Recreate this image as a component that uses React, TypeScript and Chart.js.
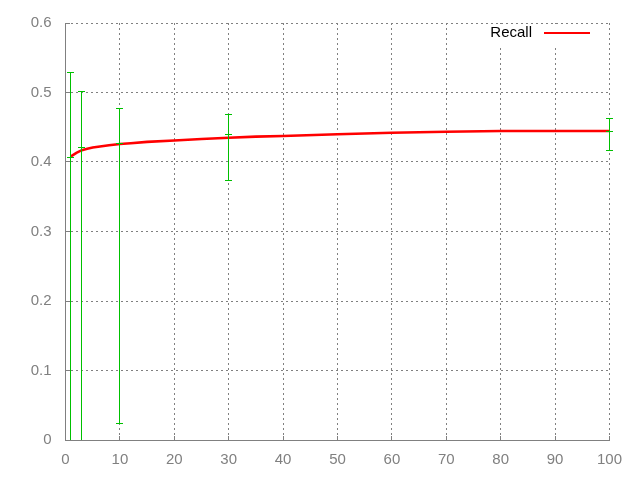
import React, { useEffect, useRef } from "react";
import { Chart, registerables } from "chart.js";

Chart.register(...registerables);

// Recall curve
const recallX = [1, 2, 3, 4, 5, 6, 8, 10, 12, 15, 20, 25, 30, 35, 40, 50, 60, 70, 80, 90, 100];
const recallY = [0.408, 0.413, 0.417, 0.419, 0.421, 0.422, 0.424, 0.426, 0.427, 0.429, 0.431, 0.433, 0.435, 0.4365, 0.4375, 0.44, 0.442, 0.4435, 0.4445, 0.4447, 0.4447];

// Error bars
const errX = [1, 3, 10, 30, 100];
const errMean = [0.407, 0.422, 0.427, 0.441, 0.444];
const errLow = [-0.05, -0.05, 0.025, 0.374, 0.417];
const errHigh = [0.53, 0.502, 0.477, 0.469, 0.464];

const xTicks = [0, 10, 20, 30, 40, 50, 60, 70, 80, 90, 100];
const yTicks = [0, 0.1, 0.2, 0.3, 0.4, 0.5, 0.6];
const legendLabel = "Recall";

const FONT = "'Liberation Sans', Arial, sans-serif";
const GRAY = "#808080";

const col = (p: number) => Math.round(p - 0.5);

const keyClearPlugin = {
  id: "keyClear",
  beforeDatasetsDraw(chart: any) {
    const { ctx, chartArea } = chart;
    ctx.save();
    ctx.fillStyle = "#ffffff";
    ctx.fillRect(470, chartArea.top + 1, 135, 21);
    // inward ticks
    const xs = chart.scales.x;
    const ys = chart.scales.y;
    ctx.fillStyle = GRAY;
    yTicks.forEach((v) => {
      const py = col(ys.getPixelForValue(v));
      ctx.fillRect(col(chartArea.left), py, 5, 1);
    });
    xTicks.forEach((v) => {
      const px = col(xs.getPixelForValue(v));
      ctx.fillRect(px, col(chartArea.bottom) - 4, 1, 5);
    });
    ctx.restore();
  },
};

const errorBarPlugin = {
  id: "errorBars",
  afterDatasetsDraw(chart: any) {
    const { ctx, chartArea } = chart;
    const xs = chart.scales.x;
    const ys = chart.scales.y;
    ctx.save();
    ctx.fillStyle = "#00c000";
    errX.forEach((x, i) => {
      const px = col(xs.getPixelForValue(x));
      const yl = Math.round(Math.min(ys.getPixelForValue(errLow[i]), chartArea.bottom));
      const yh = Math.round(ys.getPixelForValue(errHigh[i]));
      ctx.fillRect(px, yh, 1, yl - yh);
      [errLow[i], errMean[i], errHigh[i]].forEach((v) => {
        if (v < 0) return;
        const py = Math.round(ys.getPixelForValue(v));
        ctx.fillRect(px - 3, py, 7, 1);
      });
    });
    ctx.restore();
  },
};

const legendPlugin = {
  id: "customKey",
  afterDraw(chart: any) {
    const { ctx } = chart;
    ctx.save();
    ctx.font = `15px ${FONT}`;
    ctx.fillStyle = "#000000";
    ctx.textAlign = "right";
    ctx.textBaseline = "middle";
    ctx.fillText(legendLabel, 532, 33);
    ctx.fillStyle = "#ff0000";
    ctx.fillRect(544, 32, 46, 2);
    ctx.restore();
  },
};

export default function App() {
  const ref = useRef<HTMLCanvasElement | null>(null);
  useEffect(() => {
    if (!ref.current) return;
    const chart = new Chart(ref.current, {
      type: "scatter",
      data: {
        datasets: [
          {
            label: legendLabel,
            data: recallX.map((x, i) => ({ x, y: recallY[i] })),
            showLine: true,
            borderColor: "#ff0000",
            backgroundColor: "#ff0000",
            borderWidth: 2.6,
            pointRadius: 0,
            tension: 0,
          },
        ],
      },
      options: {
        animation: false,
        responsive: false,
        layout: { padding: { top: 20, right: 30.5, left: 0, bottom: 0 } },
        plugins: {
          legend: { display: false },
          tooltip: { enabled: false },
        },
        scales: {
          x: {
            type: "linear",
            min: 0,
            max: 100,
            afterFit: (s: any) => {
              s.height = 40;
            },
            afterBuildTicks: (s: any) => {
              s.ticks = xTicks.map((v) => ({ value: v }));
            },
            ticks: {
              color: GRAY,
              font: { family: FONT, size: 15 },
              padding: 11,
              maxRotation: 0,
              callback: (v: any) => String(v),
            },
            grid: { color: GRAY, lineWidth: 1, drawTicks: false },
            border: { display: true, color: GRAY, width: 1, dash: [2, 3] },
          },
          y: {
            type: "linear",
            min: 0,
            max: 0.6,
            afterFit: (s: any) => {
              s.width = 65.5;
            },
            afterBuildTicks: (s: any) => {
              s.ticks = yTicks.map((v) => ({ value: v }));
            },
            ticks: {
              color: GRAY,
              font: { family: FONT, size: 15 },
              padding: 14,
              callback: (v: any) => String(Math.round(Number(v) * 10) / 10),
            },
            grid: { color: GRAY, lineWidth: 1, drawTicks: false },
            border: { display: true, color: GRAY, width: 1, dash: [2, 3] },
          },
        },
      },
      plugins: [keyClearPlugin, errorBarPlugin, legendPlugin],
    } as any);
    return () => chart.destroy();
  }, []);
  return (
    <div style={{ position: "absolute", left: 0, top: 0, width: 640, height: 480, background: "#fff" }}>
      <canvas ref={ref} width={640} height={480} style={{ display: "block" }} />
    </div>
  );
}
